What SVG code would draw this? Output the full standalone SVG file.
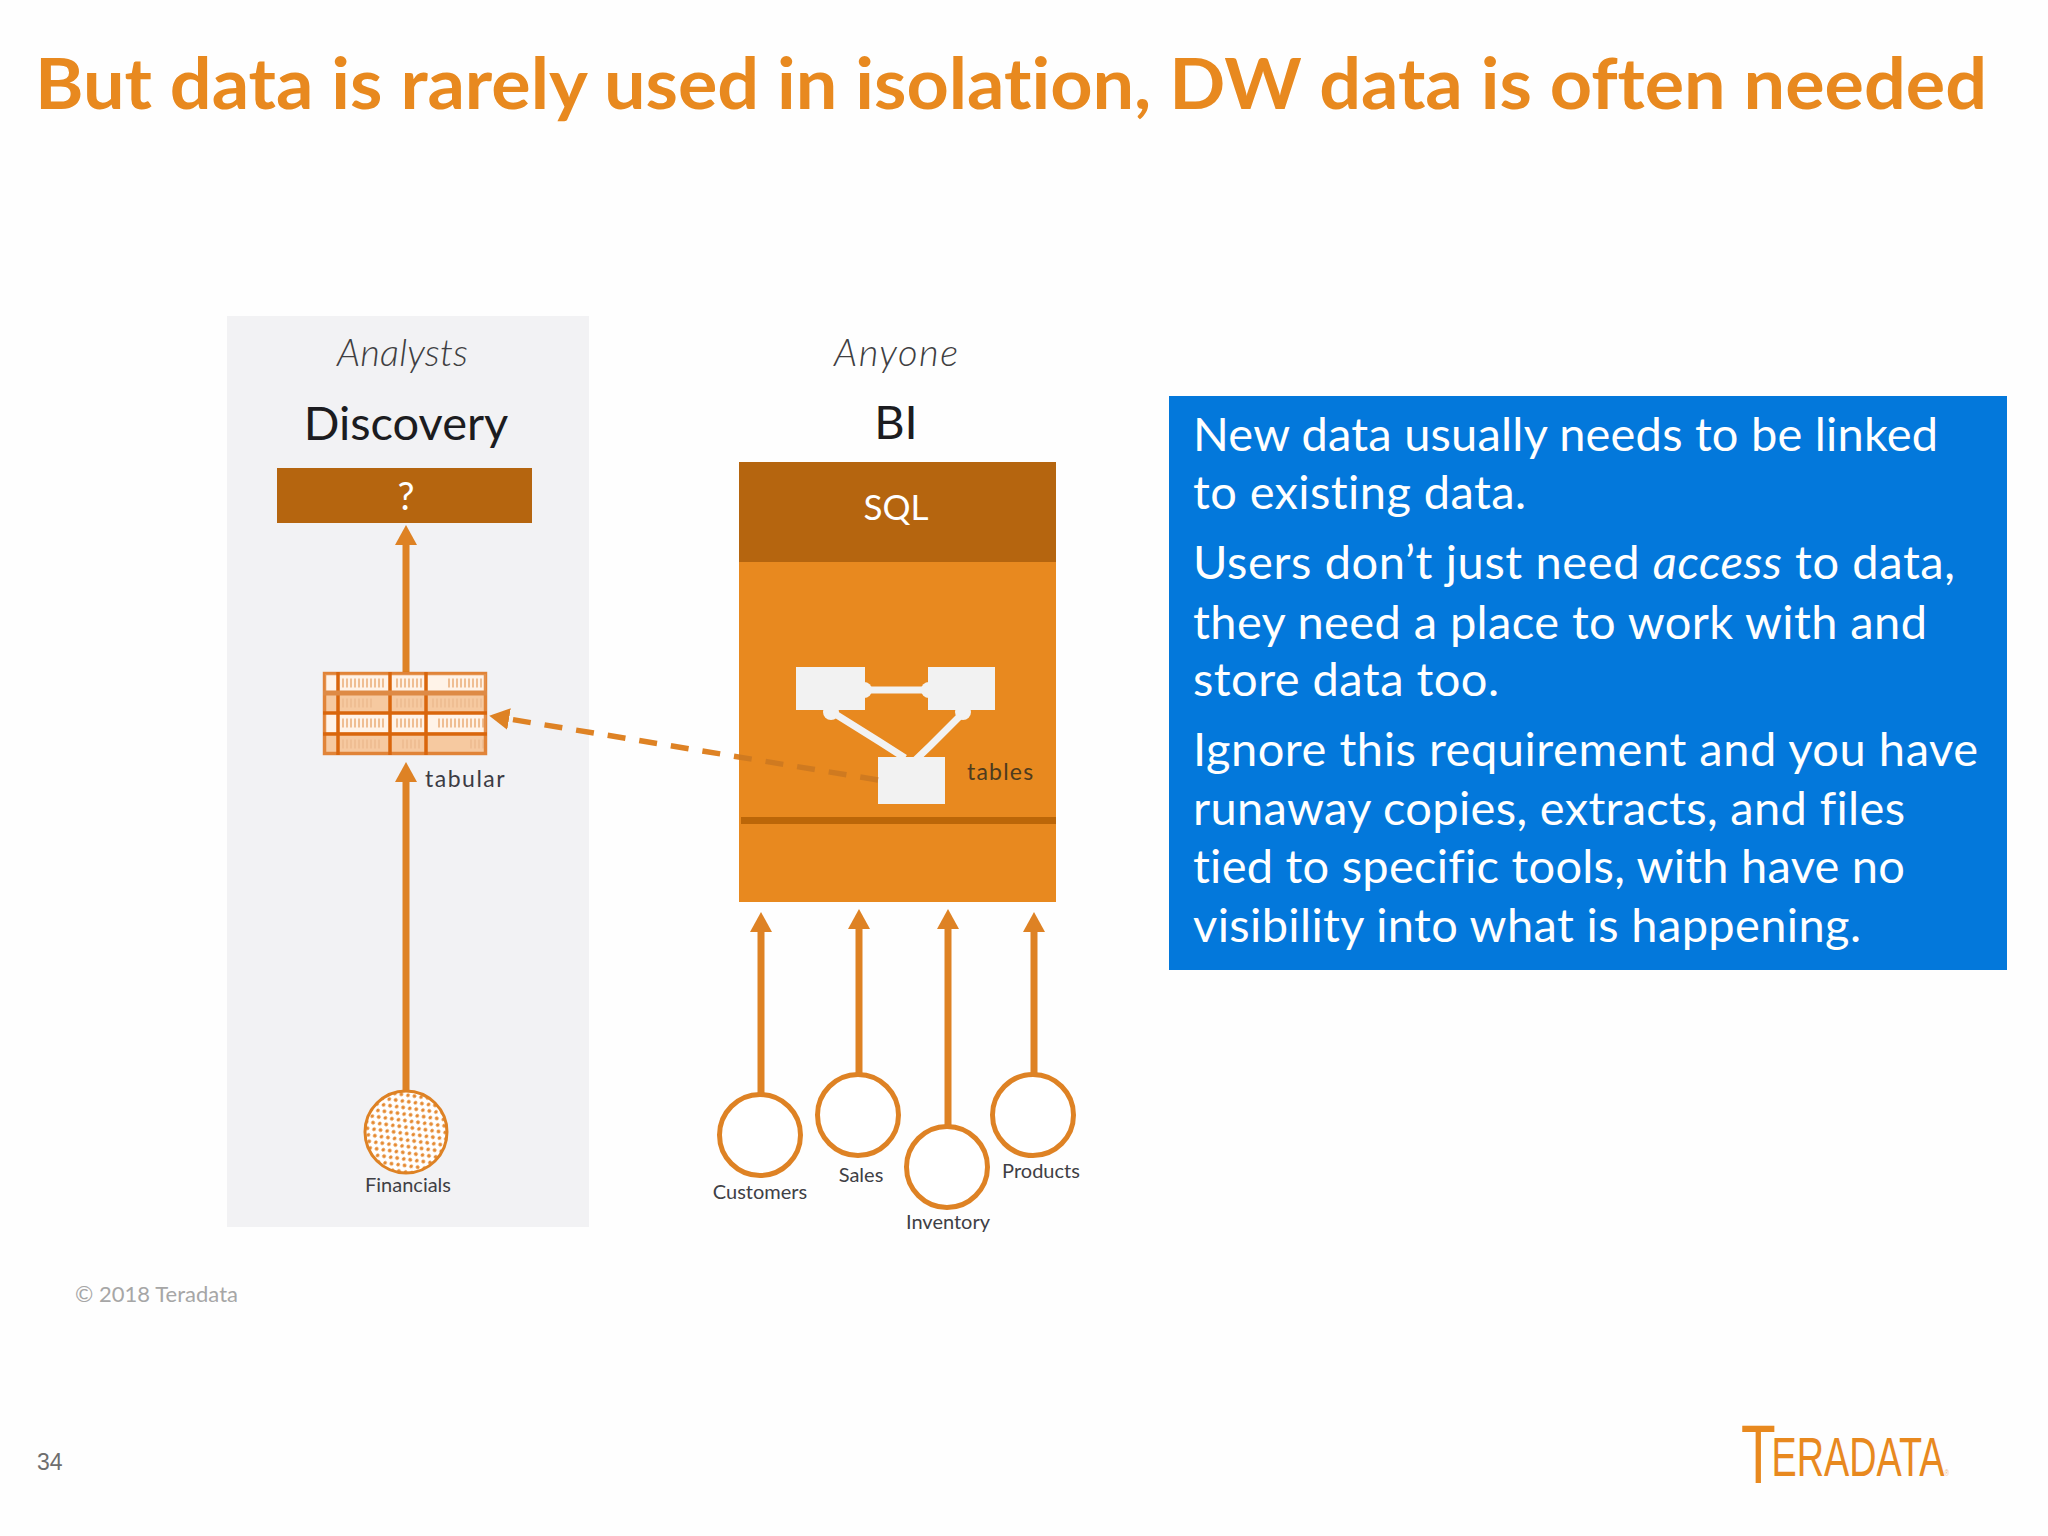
<svg xmlns="http://www.w3.org/2000/svg" width="2048" height="1536" viewBox="0 0 2048 1536">
<style>
text{font-variant-ligatures:none}
.t{font-family:"Lato","Noto Sans",sans-serif}
.lbl{font-family:"Lato","Noto Sans",sans-serif;fill:#3f4045;text-anchor:middle;font-size:20px}
.who{font-family:"Lato","Open Sans",sans-serif;font-style:italic;font-weight:300;font-size:38px;fill:#3f3f42}
.head{font-family:"Lato","Noto Sans",sans-serif;font-size:47px;fill:#1c1c20;text-anchor:middle}
.body{font-family:"Lato","Noto Sans",sans-serif;font-size:47px;fill:#fff}
.logo{font-family:"Liberation Sans",sans-serif;fill:#e8891f}
.arr{stroke:#de8224;stroke-width:7;fill:none;marker-end:url(#ah)}
.src{fill:#fff;stroke:#de8224;stroke-width:5}
.tbl{fill:#fff3e8;stroke:none}
.gl{stroke:#d9660c;stroke-width:3.500;fill:none}
.ent{fill:#f2f2f2}
.lnk{stroke:#f2f2f2;stroke-width:7;fill:none}
.sm{stroke:#efbe93;stroke-width:9;stroke-dasharray:2 2;fill:none}
</style>
<defs>
<marker id="ah" markerUnits="userSpaceOnUse" markerWidth="22" markerHeight="24" refX="0" refY="11" orient="auto"><path d="M0 0L20 11L0 22Z" fill="#de8224"/></marker>
<pattern id="dots" width="8" height="10.500" patternUnits="userSpaceOnUse" patternTransform="rotate(-45)"><circle cx="2" cy="2.500" r="1.900" fill="#e5892f"/><circle cx="6" cy="7.700" r="1.900" fill="#e5892f"/></pattern>
<linearGradient id="dg" gradientUnits="userSpaceOnUse" x1="508" y1="0" x2="880" y2="0"><stop offset="0.62" stop-color="#de8224"/><stop offset="0.62" stop-color="#cf7a20"/></linearGradient>
</defs>
<rect width="2048" height="1536" fill="#fefefe"/>
<text id="title" x="35" y="109" class="t" font-size="70" font-weight="700" fill="#e8891f" textLength="1952" lengthAdjust="spacingAndGlyphs">But data is rarely used in isolation, DW data is often needed</text>

<g id="discovery-panel">
<rect x="227" y="316" width="362" height="911" fill="#f2f2f4"/>
<text x="337" y="366" class="who" textLength="131">Analysts</text>
<text x="406" y="440" class="head">Discovery</text>
</g>
<g id="discovery-query">
<rect x="277" y="468" width="255" height="55" fill="#b5650f"/>
<text x="406" y="510" class="t" font-size="38" fill="#fff" text-anchor="middle">?</text>
</g>
<g id="bi-panel">
<text x="834" y="366" class="who" textLength="124">Anyone</text>
<text x="896" y="439" class="head">BI</text>
<rect x="739" y="462" width="317" height="440" fill="#e8891f"/>
<rect x="739" y="462" width="317" height="100" fill="#b5650f"/>
<text x="896" y="520" class="t" font-size="35" fill="#fff" text-anchor="middle">SQL</text>
<rect x="741" y="817" width="315" height="7" fill="#bb6608"/>
</g>
<g id="tables">
<path class="lnk" d="M860 690H935M832 712L880 742L905 758M964 712L930 746L905 770" stroke-linejoin="round"/>
<circle cx="864" cy="690" r="8" class="ent"/><circle cx="929" cy="690" r="8" class="ent"/><circle cx="831" cy="712" r="8" class="ent"/><circle cx="963" cy="712" r="8" class="ent"/>
<rect x="796" y="667" width="69" height="43" class="ent"/>
<rect x="928" y="667" width="67" height="43" class="ent"/>
<rect x="878" y="757" width="67" height="47" class="ent"/>
<text x="967" y="780" class="t" font-size="23" letter-spacing="1.200" fill="#4e3b1e">tables</text>
</g>
<g id="connectors">
<line x1="406" y1="672" x2="406" y2="545" class="arr"/>
<line x1="406" y1="1092" x2="406" y2="782" class="arr"/>
<line x1="761" y1="1095" x2="761" y2="932" class="arr"/>
<line x1="859" y1="1075" x2="859" y2="929" class="arr"/>
<line x1="948" y1="1127" x2="948" y2="929" class="arr"/>
<line x1="1034" y1="1075" x2="1034" y2="932" class="arr"/>
<line x1="878" y1="780" x2="509" y2="719" stroke="url(#dg)" stroke-width="5.500" stroke-dasharray="18 14" marker-end="url(#ah)"/>
</g>
<g id="tabular">
<rect x="323" y="672" width="164" height="83" fill="#f6c9a0"/>
<rect x="338" y="674" width="52" height="17" class="tbl"/><rect x="390" y="674" width="36" height="17" class="tbl"/><rect x="426" y="674" width="60" height="17" class="tbl"/><rect x="325" y="674" width="13" height="17" class="tbl"/>
<rect x="338" y="714" width="52" height="18" class="tbl"/><rect x="390" y="714" width="36" height="18" class="tbl"/><rect x="426" y="714" width="60" height="18" class="tbl"/><rect x="325" y="714" width="13" height="18" class="tbl"/>
<path class="sm" d="M342 683H386M396 683H422M448 683H482M342 703H372M396 703H422M432 703H482M342 723H386M396 723H422M438 723H484M342 744H382M402 744H422M470 744H484"/>
<rect x="324.500" y="673.500" width="161" height="80" class="gl" stroke-opacity="0.700"/>
<path class="gl" d="M338 672V755M390 672V755M426 672V755M323 713H487M323 734H487"/>
<path d="M323 693H487" stroke="#de8a45" stroke-width="5" fill="none"/>
<text x="425" y="787" class="t" font-size="23" letter-spacing="1.500" fill="#3c3c44">tabular</text>
</g>
<g id="financials">
<circle cx="406" cy="1132" r="41" fill="#fff"/>
<circle cx="406" cy="1132" r="41" fill="url(#dots)" stroke="#de8224" stroke-width="3"/>
<text x="408" y="1192" class="lbl">Financials</text>
</g>
<g id="customers"><circle cx="760" cy="1135" r="40.500" class="src"/><text x="760" y="1199" class="lbl">Customers</text></g>
<g id="sales"><circle cx="858" cy="1115" r="40.500" class="src"/><text x="861" y="1182" class="lbl">Sales</text></g>
<g id="inventory"><circle cx="947" cy="1167" r="40.500" class="src"/><text x="948" y="1229" class="lbl">Inventory</text></g>
<g id="products"><circle cx="1033" cy="1115" r="40.500" class="src"/><text x="1041" y="1178" class="lbl">Products</text></g>

<g id="callout">
<rect x="1169" y="396" width="838" height="574" fill="#0378db"/>
<text x="1193" y="451" class="body" textLength="745">New data usually needs to be linked</text>
<text x="1193" y="509" class="body" textLength="333">to existing data.</text>
<text x="1193" y="579" class="body" textLength="762">Users don’t just need <tspan font-style="italic">access</tspan> to data,</text>
<text x="1193" y="639" class="body" textLength="734">they need a place to work with and</text>
<text x="1193" y="696" class="body" textLength="306">store data too.</text>
<text x="1193" y="766" class="body" textLength="785">Ignore this requirement and you have</text>
<text x="1193" y="825" class="body" textLength="712">runaway copies, extracts, and files</text>
<text x="1193" y="883" class="body" textLength="712">tied to specific tools, with have no</text>
<text x="1193" y="942" class="body" textLength="668">visibility into what is happening.</text>
</g>
<text x="75" y="1302" class="t" font-size="22" fill="#a6a6a6" textLength="163">© 2018 Teradata</text>
<text x="37" y="1470" font-family="Liberation Sans, sans-serif" font-size="23" fill="#6e6e6e">34</text>
<g id="logo">
<text class="logo" font-size="56" transform="translate(1741 1476)" textLength="208" lengthAdjust="spacingAndGlyphs"><tspan font-size="84" dy="7">T</tspan><tspan dy="-7" dx="-6">ERADATA</tspan><tspan font-size="9" fill-opacity="0.600">®</tspan></text>
</g>
</svg>
